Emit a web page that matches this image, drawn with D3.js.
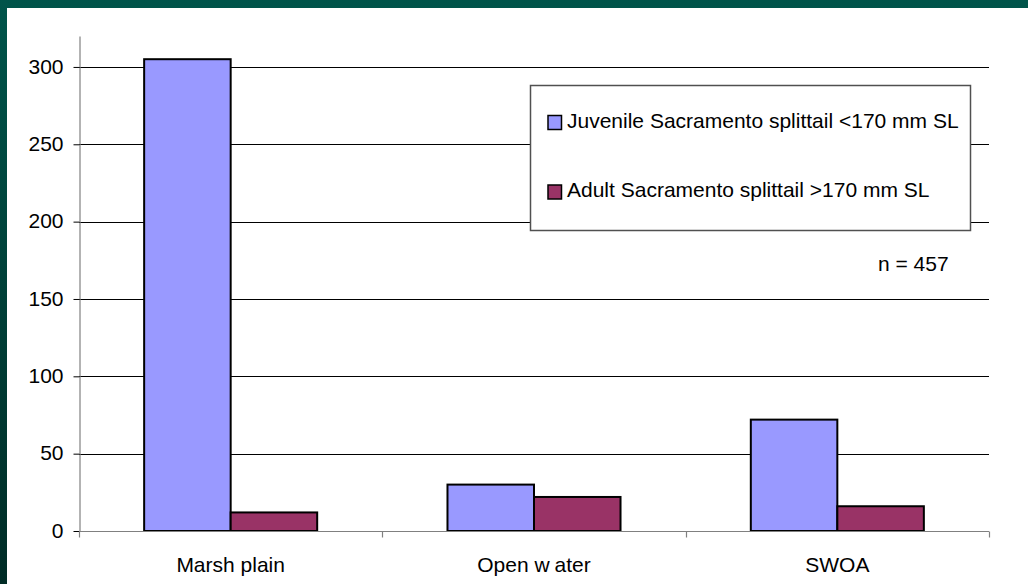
<!DOCTYPE html>
<html>
<head>
<meta charset="utf-8">
<script src="https://cdn.jsdelivr.net/npm/d3@7"></script>
<style>
  html, body { margin: 0; padding: 0; background: #ffffff; }
  svg { display: block; }
  text { font-family: "Liberation Sans", Arial, sans-serif; fill: #000; }
</style>
</head>
<body>
<svg id="chart" width="1028" height="584"></svg>
<script>
// Catch of Sacramento splittail by habitat type
const categories = ["Marsh plain", "Open water", "SWOA"];
const seriesNames = [
  "Juvenile Sacramento splittail <170 mm SL",
  "Adult Sacramento splittail >170 mm SL"
];
const juvenile = [305, 30, 72];
const adult = [12, 22, 16];
const yTicks = [0, 50, 100, 150, 200, 250, 300];
const totalLabel = "n = 457";

const colors = ["#9999FF", "#993366"];
const seriesValues = [juvenile, adult];
const FONT = "'Liberation Sans', Arial, sans-serif";

const svg = d3.select("#chart");
const W = 1028, H = 584;

// Dark frame with a soft vertical gradient
const defs = svg.append("defs");
const grad = defs.append("linearGradient")
  .attr("id", "frame").attr("x1", 0).attr("y1", 0).attr("x2", 0).attr("y2", 1);
grad.append("stop").attr("offset", "0%").attr("stop-color", "#00544a");
grad.append("stop").attr("offset", "100%").attr("stop-color", "#002c26");
svg.append("rect").attr("width", W).attr("height", H).attr("fill", "url(#frame)");
svg.append("rect").attr("x", 7).attr("y", 8).attr("width", W - 7).attr("height", H - 8)
  .attr("fill", "#ffffff");

const plot = { left: 79, right: 989, top: 36, bottom: 531 };

const y = d3.scaleLinear().domain([0, 320]).range([plot.bottom, plot.top]);
const x0 = d3.scaleBand().domain(categories).range([plot.left, plot.right])
  .paddingInner(0).paddingOuter(0);
const x1 = d3.scaleBand().domain(d3.range(seriesNames.length))
  .range([0, x0.bandwidth()]).paddingInner(0).paddingOuter(0.753);

// Horizontal gridlines
svg.append("g")
  .selectAll("line")
  .data(yTicks.filter(d => d > 0))
  .join("line")
  .attr("x1", plot.left).attr("x2", plot.right)
  .attr("y1", d => Math.round(y(d)) + 0.5).attr("y2", d => Math.round(y(d)) + 0.5)
  .attr("stroke", "#000").attr("stroke-width", 1);

// Y axis
const yAxis = svg.append("g")
  .attr("transform", `translate(${plot.left + 0.5},0)`)
  .call(d3.axisLeft(y).tickValues(yTicks).tickSize(6).tickPadding(10).tickSizeOuter(0));
yAxis.attr("font-family", FONT).attr("font-size", 21);
yAxis.select(".domain").attr("stroke", "#808080").attr("stroke-width", 1.2);
yAxis.selectAll(".tick line").attr("stroke", "#000");
yAxis.selectAll(".tick text")
  .attr("fill", "#000").attr("dy", "0.3em");

// Bars
const groups = svg.append("g")
  .selectAll("g")
  .data(categories)
  .join("g")
  .attr("transform", d => `translate(${x0(d)},0)`);

groups.selectAll("rect")
  .data((c, i) => seriesValues.map((vals, s) => ({ s, v: vals[i] })))
  .join("rect")
  .attr("x", d => x1(d.s))
  .attr("width", x1.bandwidth())
  .attr("y", d => y(d.v))
  .attr("height", d => y(0) - y(d.v))
  .attr("fill", d => colors[d.s])
  .attr("stroke", "#000")
  .attr("stroke-width", 2);

// X axis with tick marks at category boundaries
const xAxisG = svg.append("g")
  .attr("transform", `translate(0,${plot.bottom + 0.5})`)
  .attr("font-family", FONT);
xAxisG.append("line")
  .attr("x1", plot.left).attr("x2", plot.right)
  .attr("stroke", "#808080").attr("stroke-width", 1.2);
const boundaries = categories.map(c => x0(c)).concat([plot.right]);
xAxisG.selectAll("line.sep")
  .data(boundaries)
  .join("line")
  .attr("class", "sep")
  .attr("x1", d => Math.round(d) + 0.5).attr("x2", d => Math.round(d) + 0.5)
  .attr("y1", 0).attr("y2", 6)
  .attr("stroke", "#808080").attr("stroke-width", 1.2);

// Category labels
const catLabels = xAxisG.selectAll("text.cat")
  .data(categories)
  .join("text")
  .attr("class", "cat")
  .attr("x", d => x0(d) + x0.bandwidth() / 2)
  .attr("y", 40)
  .attr("text-anchor", "middle")
  .attr("font-size", 21);
catLabels.each(function (d) {
  const t = d3.select(this);
  if (d === "Open water") {
    t.append("tspan").text("Open w");
    t.append("tspan").attr("dx", 5).text("ater");
  } else {
    t.text(d);
  }
});

// Legend
const legend = svg.append("g").attr("font-family", FONT);
legend.append("rect")
  .attr("x", 530.5).attr("y", 85.5).attr("width", 440).attr("height", 145)
  .attr("fill", "#fff").attr("stroke", "#505050").attr("stroke-width", 1.5);
const legendRows = [122.5, 192];
seriesNames.forEach((name, i) => {
  legend.append("rect")
    .attr("x", 548).attr("y", legendRows[i] - 7)
    .attr("width", 13.5).attr("height", 14)
    .attr("fill", colors[i]).attr("stroke", "#000").attr("stroke-width", 1.5);
  legend.append("text")
    .attr("x", 567).attr("y", legendRows[i] + 5)
    .attr("font-size", 21)
    .text(name);
});

// Sample size note
svg.append("text")
  .attr("x", 878).attr("y", 271)
  .attr("font-family", FONT)
  .attr("font-size", 21)
  .text(totalLabel);
</script>
</body>
</html>
